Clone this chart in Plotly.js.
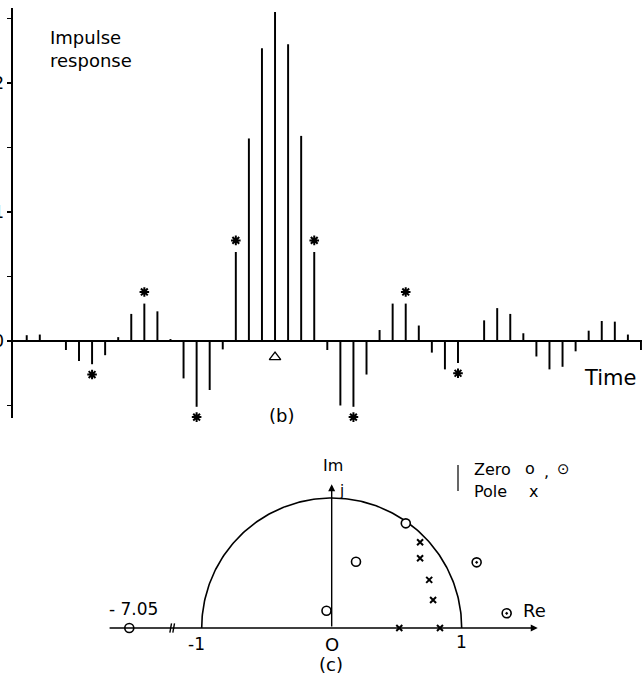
<!DOCTYPE html>
<html>
<head>
<meta charset="utf-8">
<script src="https://cdn.plot.ly/plotly-3.0.1.min.js"></script>
<style>html,body{margin:0;padding:0;background:#fff;}#chart{width:642px;height:674px;}</style>
</head>
<body>
<div id="chart"></div>
<script>
// ---- (b) impulse response samples ----
const impulse = [0.045, 0.05, 0, -0.07, -0.155, -0.18, -0.11, 0.03, 0.21, 0.29, 0.23, 0.015,
  -0.29, -0.51, -0.38, -0.065, 0.69, 1.57, 2.27, 2.55, 2.30, 1.59, 0.69, -0.07, -0.50, -0.51,
  -0.26, 0.085, 0.29, 0.29, 0.12, -0.09, -0.22, -0.17, 0, 0.16, 0.255, 0.21, 0.06, -0.12,
  -0.22, -0.20, -0.08, 0.08, 0.155, 0.15, 0.05, -0.07];
const starredIdx = [5, 9, 13, 16, 22, 25, 29, 33];
const peakIdx = 19;
const yTickVals = [-0.5, 0, 0.5, 1, 1.5, 2, 2.5];
const yTickText = ['', '0', '', '1', '', '2', ''];

// ---- (c) pole-zero plot (z-plane) ----
const zeroRe = [0.57, 0.187, -0.04];
const zeroIm = [0.805, 0.51, 0.133];
const zeroReciprocalRe = [1.115, 1.346];
const zeroReciprocalIm = [0.505, 0.113];
const farZeroValue = -7.05;      // drawn on the broken part of the real axis
const farZeroShownRe = -1.557;
const poleRe = [0.68, 0.68, 0.75, 0.78, 0.52, 0.833];
const poleIm = [0.66, 0.536, 0.37, 0.215, 0, 0];

const FONT = 'DejaVu Sans, sans-serif';
const xIdx = impulse.map((_, i) => i);

const traces = [];
traces.push({
  type: 'bar', x: xIdx, y: impulse, width: 0.15,
  marker: {color: '#000', line: {width: 0}},
  xaxis: 'x', yaxis: 'y', hoverinfo: 'x+y'
});
const starY = starredIdx.map(i => impulse[i] + (impulse[i] >= 0 ? 0.09 : -0.08));
traces.push({
  type: 'scatter', mode: 'markers', x: starredIdx, y: starY, cliponaxis: false,
  marker: {symbol: 'asterisk-open', size: 8, color: '#000', line: {color: '#000', width: 2}},
  xaxis: 'x', yaxis: 'y'
});
traces.push({
  type: 'scatter', mode: 'markers', x: [peakIdx], y: [-0.125], cliponaxis: false,
  marker: {symbol: 'triangle-up-open', size: 10, color: '#000', line: {color: '#000', width: 1.3}},
  xaxis: 'x', yaxis: 'y'
});

// unit circle (upper half)
const cx = [], cy = [];
for (let a = 0; a <= 180; a += 1) { cx.push(Math.cos(a * Math.PI / 180)); cy.push(Math.sin(a * Math.PI / 180)); }
traces.push({type: 'scatter', mode: 'lines', x: cx, y: cy, line: {color: '#000', width: 1.6},
  xaxis: 'x2', yaxis: 'y2', hoverinfo: 'skip'});

traces.push({type: 'scatter', mode: 'markers', x: zeroRe, y: zeroIm,
  marker: {symbol: 'circle', size: 9, color: '#fff', line: {color: '#000', width: 1.6}},
  xaxis: 'x2', yaxis: 'y2'});
traces.push({type: 'scatter', mode: 'markers', x: [farZeroShownRe], y: [0],
  text: [String(farZeroValue)], hoverinfo: 'text',
  marker: {symbol: 'circle', size: 9, color: '#fff', line: {color: '#000', width: 1.6}},
  xaxis: 'x2', yaxis: 'y2'});
traces.push({type: 'scatter', mode: 'markers', x: zeroReciprocalRe, y: zeroReciprocalIm,
  marker: {symbol: 'circle-open-dot', size: 9, color: '#000', line: {color: '#000', width: 1.6}},
  xaxis: 'x2', yaxis: 'y2'});
traces.push({type: 'scatter', mode: 'markers', x: poleRe, y: poleIm,
  marker: {symbol: 'x-thin-open', size: 6, color: '#000', line: {color: '#000', width: 2}},
  xaxis: 'x2', yaxis: 'y2'});

const ann = [];
function txt(x, y, text, size, opts) {
  ann.push(Object.assign({xref: 'paper', yref: 'paper', x: x / 642, y: 1 - y / 674, text: text,
    showarrow: false, font: {family: FONT, size: size, color: '#000'},
    xanchor: 'center', yanchor: 'middle'}, opts || {}));
}
txt(48, 49, 'Impulse<br>response', 18, {xanchor: 'left', align: 'left'});
txt(610, 378, 'Time', 21);
txt(281, 415, '(b)', 18);
txt(333, 465, 'Im', 16);
txt(342, 491, 'j', 15);
txt(133, 609, '- 7.05', 17);
txt(196, 644, '-1', 17);
txt(332, 644, 'O', 18);
txt(461, 642, '1', 17);
txt(331, 664, '(c)', 18);
txt(534, 610, 'Re', 18);
txt(472, 469, 'Zero', 16, {xanchor: 'left'});
txt(472, 491, 'Pole', 16, {xanchor: 'left'});
txt(530, 468, 'o', 16);
txt(546, 471, ',', 16);
txt(563, 469, '⊙', 15);
txt(533, 491, 'x', 16);

// axes arrows for z-plane
ann.push({xref: 'x2', yref: 'y2', axref: 'x2', ayref: 'y2', x: 1.585, y: 0, ax: -1.72, ay: 0,
  showarrow: true, arrowhead: 2, arrowsize: 1, arrowwidth: 1.4, arrowcolor: '#000', text: ''});
ann.push({xref: 'x2', yref: 'y2', axref: 'x2', ayref: 'y2', x: 0, y: 1.105, ax: 0, ay: 0,
  showarrow: true, arrowhead: 2, arrowsize: 1, arrowwidth: 1.4, arrowcolor: '#000', text: ''});

const shapes = [
  // break mark on real axis
  {type: 'line', xref: 'x2', yref: 'y2', x0: -1.245, y0: -0.035, x1: -1.232, y1: 0.035, line: {color: '#000', width: 1.4}},
  {type: 'line', xref: 'x2', yref: 'y2', x0: -1.222, y0: -0.035, x1: -1.209, y1: 0.035, line: {color: '#000', width: 1.4}},
  // legend brace
  {type: 'line', xref: 'paper', yref: 'paper', x0: 458 / 642, x1: 458 / 642, y0: 1 - 465 / 674, y1: 1 - 491 / 674, line: {color: '#000', width: 1.2}}
];

const layout = {
  width: 642, height: 674,
  margin: {l: 0, r: 0, t: 0, b: 0},
  paper_bgcolor: '#fff', plot_bgcolor: 'rgba(0,0,0,0)',
  showlegend: false,
  font: {family: FONT, color: '#000'},
  xaxis: {domain: [13 / 642, 1], range: [-1.05, 47.08], visible: false, fixedrange: true},
  yaxis: {domain: [256 / 674, 666 / 674], range: [-0.5969, 2.5814], showgrid: false,
    zeroline: true, zerolinecolor: '#000', zerolinewidth: 1.4,
    showline: true, linecolor: '#000', linewidth: 1.6,
    ticks: 'outside', ticklen: 4, tickwidth: 1.4, tickcolor: '#000',
    tickvals: yTickVals, ticktext: yTickText, tickfont: {family: FONT, size: 17, color: '#000'},
    fixedrange: true},
  xaxis2: {domain: [0, 1], range: [-2.5515, 2.387], visible: false, anchor: 'y2', fixedrange: true},
  yaxis2: {domain: [0, 244 / 674], range: [-0.35385, 1.52308], visible: false, anchor: 'x2', fixedrange: true},
  annotations: ann,
  shapes: shapes
};

Plotly.newPlot('chart', traces, layout, {displayModeBar: false, staticPlot: true});
</script>
</body>
</html>
